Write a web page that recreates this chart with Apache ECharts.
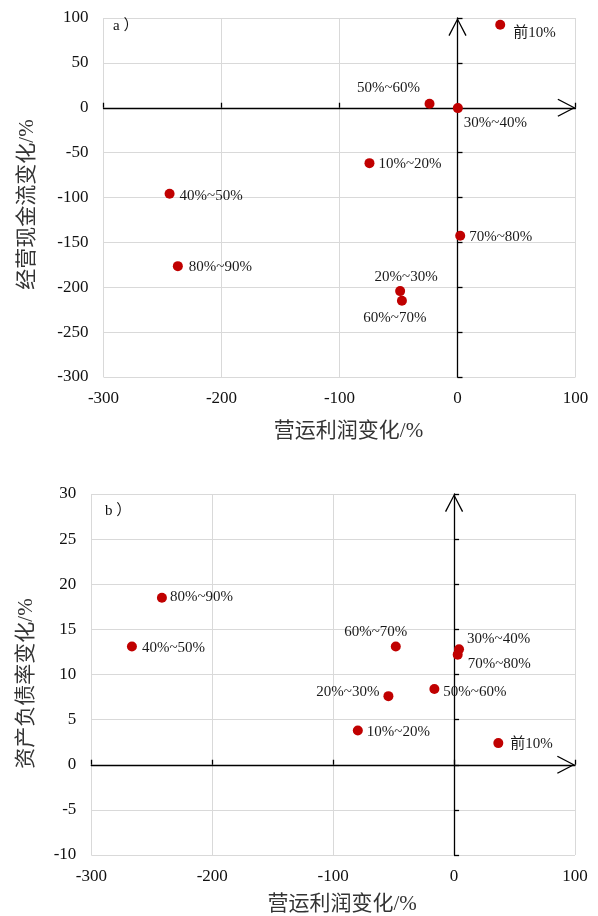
<!DOCTYPE html>
<html>
<head>
<meta charset="utf-8">
<script src="https://cdn.jsdelivr.net/npm/echarts@6/dist/echarts.min.js"></script>
<style>
html,body{margin:0;padding:0;background:#fff;}
#chart{width:598px;height:916px;}
</style>
</head>
<body>
<div id="chart"></div>
<script>
// ---------- data ----------
const groups = ['前10%', '10%~20%', '20%~30%', '30%~40%', '40%~50%', '50%~60%', '60%~70%', '70%~80%', '80%~90%'];
// panel a
const profitChangeA = [36.2, -74.6, -48.6, 0.3, -244, -23.7, -47.1, 2.3, -237];
const cashFlowChange = [92.5, -61.7, -204.3, -0.4, -95.8, 4.5, -215, -142.6, -176.5];
// panel b
const profitChangeB = [36.6, -79.6, -54.3, 4.1, -266.4, -16.3, -48.2, 3.0, -241.6];
const debtRatioChange = [2.4, 3.8, 7.6, 12.8, 13.1, 8.4, 13.1, 12.2, 18.5];
// axis ticks
const xTicks = [-300, -200, -100, 0, 100];
const yTicksA = [-300, -250, -200, -150, -100, -50, 0, 50, 100];
const yTicksB = [-10, -5, 0, 5, 10, 15, 20, 25, 30];

// ---------- label placement (style) ----------
const labelPosA = {
  '前10%': {position: 'right', offset: [3, 8]},
  '10%~20%': {position: 'right', offset: [-1, 1]},
  '20%~30%': {position: 'top', offset: [6, 3]},
  '30%~40%': {position: 'right', offset: [-4, 15]},
  '40%~50%': {position: 'right', offset: [0, 2]},
  '50%~60%': {position: 'top', offset: [-41, 2]},
  '60%~70%': {position: 'bottom', offset: [-7, 0]},
  '70%~80%': {position: 'right', offset: [-1, 1]},
  '80%~90%': {position: 'right', offset: [1, 1]}
};
const labelPosB = {
  '前10%': {position: 'right', offset: [2, 1]},
  '10%~20%': {position: 'right', offset: [-1, 2]},
  '20%~30%': {position: 'left', offset: [1, -4]},
  '30%~40%': {position: 'right', offset: [-2, -10]},
  '40%~50%': {position: 'right', offset: [0, 2]},
  '50%~60%': {position: 'right', offset: [-1, 3]},
  '60%~70%': {position: 'top', offset: [-20, 3]},
  '70%~80%': {position: 'right', offset: [0, 9]},
  '80%~90%': {position: 'right', offset: [-2, -1]}
};

const FONT = "'Liberation Serif', 'Noto Sans CJK SC', serif";
const CHEVRON = 'path://M0,19 L10,0 L20,19 L18.7,19.8 L10,2.8 L1.3,19.8 Z';
const gridColor = '#d9d9d9';

function labelAxisX(gridIndex, ticks, gap) {
  return {
    gridIndex: gridIndex, type: 'value',
    min: ticks[0], max: ticks[ticks.length - 1], interval: ticks[1] - ticks[0],
    position: 'bottom',
    axisLine: {show: false, onZero: false},
    axisTick: {show: false},
    axisLabel: {margin: 13, fontSize: 17, fontFamily: FONT, color: '#111'},
    splitLine: {show: true, lineStyle: {color: gridColor, width: 1}},
    name: '营运利润变化/%', nameLocation: 'middle', nameGap: gap,
    nameTextStyle: {fontSize: 21, fontFamily: FONT, color: '#333', padding: [0, 0, 0, 18]}
  };
}
function labelAxisY(gridIndex, ticks, name, gap, shift) {
  return {
    gridIndex: gridIndex, type: 'value',
    min: ticks[0], max: ticks[ticks.length - 1], interval: ticks[1] - ticks[0],
    position: 'left',
    axisLine: {show: false, onZero: false},
    axisTick: {show: false},
    axisLabel: {margin: 15, fontSize: 17, fontFamily: FONT, color: '#111'},
    splitLine: {show: true, lineStyle: {color: gridColor, width: 1}},
    name: name, nameLocation: 'middle', nameGap: gap,
    nameTextStyle: {fontSize: 21, fontFamily: FONT, color: '#333', padding: [0, shift, 0, 0]}
  };
}
function crossAxis(gridIndex, ticks, pos) {
  return {
    gridIndex: gridIndex, type: 'value',
    min: ticks[0], max: ticks[ticks.length - 1], interval: ticks[1] - ticks[0],
    position: pos,
    axisLine: {show: true, onZero: true, onZeroAxisIndex: gridIndex * 2,
      lineStyle: {color: '#000', width: 1.3},
      symbol: ['none', CHEVRON], symbolSize: [19, 18], symbolOffset: [0, -9]},
    axisTick: {show: true, inside: false, length: 5, lineStyle: {color: '#000', width: 1.3}},
    axisLabel: {show: false},
    splitLine: {show: false}
  };
}
function buildData(xs, ys, posMap) {
  return groups.map(function (g, i) {
    const p = posMap[g];
    return {
      name: g, value: [xs[i], ys[i]],
      label: {show: true, position: p.position, offset: p.offset, distance: 5}
    };
  });
}

const option = {
  backgroundColor: '#fff',
  animation: false,
  title: [
    {text: 'a ）', left: 113, top: 19, padding: 0,
     textStyle: {fontSize: 15, fontWeight: 'normal', fontFamily: FONT, color: '#111'}},
    {text: 'b ）', left: 105, top: 504, padding: 0,
     textStyle: {fontSize: 15, fontWeight: 'normal', fontFamily: FONT, color: '#111'}}
  ],
  grid: [
    {left: 103.5, top: 18, width: 472, height: 359},
    {left: 91.3, top: 494, width: 483.7, height: 361.7}
  ],
  xAxis: [
    labelAxisX(0, xTicks, 44),
    crossAxis(0, xTicks, 'top'),
    labelAxisX(1, xTicks, 39),
    crossAxis(1, xTicks, 'top')
  ],
  yAxis: [
    labelAxisY(0, yTicksA, '经营现金流变化/%', 66, 14),
    crossAxis(0, yTicksA, 'right'),
    labelAxisY(1, yTicksB, '资产负债率变化/%', 54, 18),
    crossAxis(1, yTicksB, 'right')
  ],
  series: [
    {
      type: 'scatter', xAxisIndex: 0, yAxisIndex: 0,
      symbol: 'circle', symbolSize: 10,
      itemStyle: {color: '#c00000', opacity: 1},
      label: {fontSize: 15, fontFamily: FONT, color: '#1a1a1a', formatter: '{b}'},
      data: buildData(profitChangeA, cashFlowChange, labelPosA)
    },
    {
      type: 'scatter', xAxisIndex: 2, yAxisIndex: 2,
      symbol: 'circle', symbolSize: 10,
      itemStyle: {color: '#c00000', opacity: 1},
      label: {fontSize: 15, fontFamily: FONT, color: '#1a1a1a', formatter: '{b}'},
      data: buildData(profitChangeB, debtRatioChange, labelPosB)
    }
  ]
};

const chart = echarts.init(document.getElementById('chart'), null, {renderer: 'canvas'});
chart.setOption(option);
</script>
</body>
</html>
